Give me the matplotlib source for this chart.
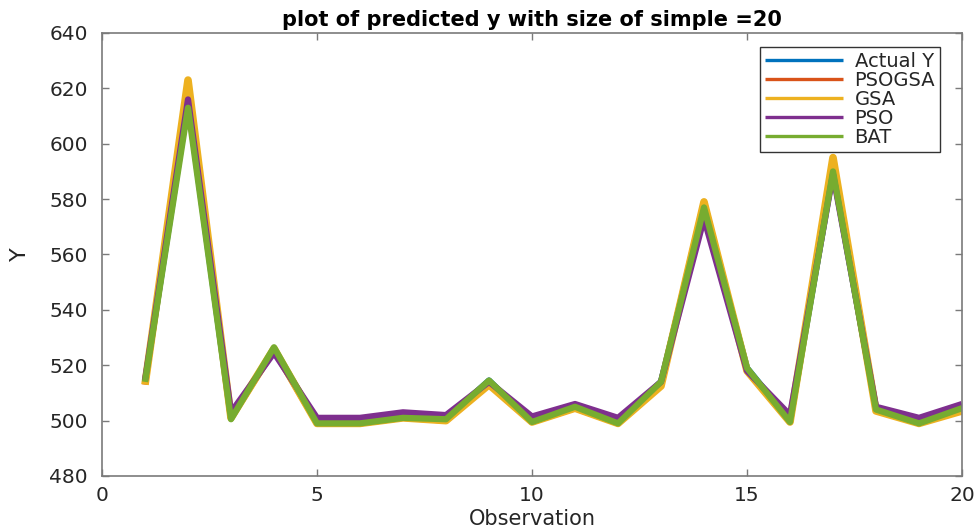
import matplotlib.pyplot as plt
import numpy as np

# observations and predicted y for each optimiser
obs = np.arange(1, 21)
actual_y = [514, 615, 501, 526, 499.5, 499.5, 501.5, 500.5, 514.5, 499.5,
            505, 499.5, 514, 577, 519, 500, 590, 504.5, 499.5, 505]
psogsa = [513, 622, 501, 525.5, 499, 499, 501, 500, 513.5, 499.5,
          504.5, 499, 513, 579, 518, 499.5, 594, 504, 499, 504]
gsa = [513, 623, 501, 526, 499, 499, 501, 500, 513, 499.5,
       504.5, 499, 512.5, 579, 518, 499.5, 595, 503.5, 499, 503.5]
pso = [514.5, 616, 503, 524.5, 501, 501, 503, 502, 514, 501.5,
       506, 501, 514, 573, 518, 502, 589, 505, 501, 506]
bat = [514, 613, 500.5, 526.5, 499, 499, 501, 500.5, 514.5, 499.5,
       505, 499, 514, 577, 519, 499.5, 590, 504, 499, 504.5]

series = [("Actual Y", actual_y, "#0072BD", 4.5),
          ("PSOGSA", psogsa, "#D95319", 4.5),
          ("GSA", gsa, "#EDB120", 5.5),
          ("PSO", pso, "#7E2F8E", 4.5),
          ("BAT", bat, "#77AC30", 4.5)]

plt.rcParams['font.family'] = ['DejaVu Sans']

fig = plt.figure(figsize=(9.79, 5.32), dpi=100)
ax = fig.add_axes([102/979, 1 - 476/532, 860/979, 443/532])

for name, vals, col, lw in series:
    ax.plot(obs, vals, color=col, lw=lw, label=name,
            solid_joinstyle='round', solid_capstyle='butt')

ax.set_xlim(0, 20)
ax.set_ylim(480, 640)
ax.set_xticks([0, 5, 10, 15, 20])
ax.set_yticks(np.arange(480, 641, 20))

grey = '#262626'
for s in ax.spines.values():
    s.set_color('#7a7a7a')
    s.set_linewidth(1.2)
ax.tick_params(direction='in', length=5, width=1, color='#7a7a7a',
               top=True, right=True, labelsize=14.5, labelcolor=grey)
ax.tick_params(axis='y', pad=10)
ax.tick_params(axis='x', pad=7)

ax.set_title("plot of predicted y with size of simple =20", fontsize=15,
             fontweight='bold', color='black', pad=5)
ax.set_xlabel("Observation", fontsize=15, color=grey, labelpad=3)
ax.set_ylabel("Y", fontsize=16, color=grey, labelpad=14)

leg = ax.legend(loc='upper right', bbox_to_anchor=(940/979, 1 - 47/532),
                bbox_transform=fig.transFigure, borderaxespad=0,
                fontsize=14, labelspacing=0.0, handlelength=4.0,
                handletextpad=0.6, borderpad=0.25, fancybox=False,
                framealpha=1, edgecolor='#333333')
leg.get_frame().set_linewidth(1.0)
for h in leg.get_lines():
    h.set_linewidth(2.4)
for t in leg.get_texts():
    t.set_color(grey)

fig.savefig("out.png", dpi=100)
